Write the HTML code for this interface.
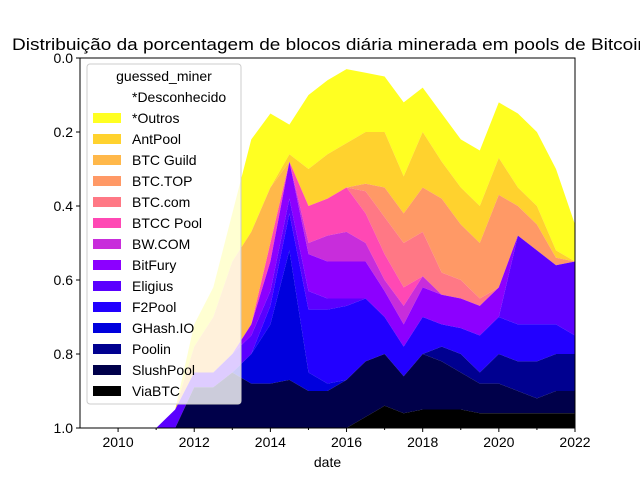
<!DOCTYPE html>
<html><head><meta charset="utf-8"><style>
body{margin:0;background:#fff;}
svg text{font-family:"Liberation Sans","DejaVu Sans",sans-serif;}
</style></head><body>
<svg id="chart" width="640" height="480" xmlns="http://www.w3.org/2000/svg">
<defs><clipPath id="plotclip"><rect x="80" y="58" width="495" height="370"/></clipPath></defs>
<rect width="640" height="480" fill="#fff"/>
<g id="areas" clip-path="url(#plotclip)"></g>
<rect x="80" y="58" width="495" height="370" fill="none" stroke="#000" stroke-width="1"/>
<g id="axes"></g>
<text x="12" y="50" font-size="17" textLength="636" lengthAdjust="spacingAndGlyphs">Distribuição da porcentagem de blocos diária minerada em pools de Bitcoin</text>
<text x="327.5" y="467" font-size="14" text-anchor="middle">date</text>
<g id="legend"></g>
</svg>
<script>
const years = [2009,2009.5,2010,2010.5,2011,2011.5,2012,2012.5,2013,2013.5,2014,2014.5,2015,2015.5,2016,2016.5,2017,2017.5,2018,2018.5,2019,2019.5,2020,2020.5,2021,2021.5,2022];
const miners = ["*Desconhecido","*Outros","AntPool","BTC Guild","BTC.TOP","BTC.com","BTCC Pool","BW.COM","BitFury","Eligius","F2Pool","GHash.IO","Poolin","SlushPool","ViaBTC"];
const desconhecido = [1,1,1,1,1,0.95,0.72,0.62,0.42,0.22,0.15,0.18,0.10,0.06,0.03,0.04,0.05,0.12,0.08,0.15,0.22,0.25,0.12,0.15,0.20,0.30,0.45];
const outros       = [0,0,0,0,0,0,0.06,0.08,0.13,0.25,0.20,0.08,0.20,0.20,0.20,0.16,0.15,0.20,0.12,0.13,0.13,0.15,0.15,0.20,0.20,0.22,0.10];
const antpool      = [0,0,0,0,0,0,0,0,0,0,0,0.02,0.10,0.12,0.12,0.14,0.15,0.10,0.15,0.10,0.10,0.10,0.10,0.05,0.05,0.02,0];
const btcguild     = [0,0,0,0,0,0,0.07,0.15,0.25,0.25,0.15,0,0,0,0,0,0,0,0,0,0,0,0,0,0,0,0];
const btctop       = [0,0,0,0,0,0,0,0,0,0,0,0,0,0,0,0.02,0.08,0.08,0.12,0.20,0.15,0.15,0.25,0.08,0.07,0.02,0];
const btccom       = [0,0,0,0,0,0,0,0,0,0,0,0,0,0,0,0.06,0.10,0.12,0.12,0.06,0.05,0.02,0,0,0,0,0];
const btcc         = [0,0,0,0,0,0,0,0,0,0,0.05,0,0.10,0.10,0.12,0.08,0.07,0.05,0,0,0,0,0,0,0,0,0];
const bwcom        = [0,0,0,0,0,0,0,0,0,0,0,0,0.03,0.07,0.08,0.05,0.03,0.05,0.03,0,0,0,0,0,0,0,0];
const bitfury      = [0,0,0,0,0,0,0,0,0,0.03,0.08,0.10,0.10,0.10,0.10,0.10,0.07,0.06,0.08,0.08,0.08,0.08,0.08,0,0,0,0];
const eligius      = [0,0,0,0,0,0.05,0.04,0.04,0.05,0.05,0.04,0.04,0.05,0.03,0.02,0,0,0,0,0,0,0,0,0.24,0.20,0.16,0.20];
const f2pool       = [0,0,0,0,0,0,0,0,0,0,0.05,0.10,0.17,0.20,0.20,0.17,0.10,0.08,0.10,0.06,0.07,0.10,0.10,0.10,0.10,0.08,0.05];
const ghash        = [0,0,0,0,0,0,0,0,0,0.08,0.16,0.35,0.05,0.02,0,0,0,0,0,0,0,0,0,0,0,0,0];
const poolin       = [0,0,0,0,0,0,0,0,0,0,0,0,0,0,0,0,0,0,0,0.04,0.05,0.03,0.08,0.08,0.10,0.10,0.10];
const slushpool    = [0,0,0,0,0,0,0.11,0.11,0.15,0.12,0.12,0.13,0.10,0.10,0.13,0.15,0.14,0.10,0.15,0.13,0.10,0.08,0.08,0.06,0.04,0.06,0.06];
const viabtc       = [0,0,0,0,0,0,0,0,0,0,0,0,0,0,0,0.03,0.06,0.04,0.05,0.05,0.05,0.04,0.04,0.04,0.04,0.04,0.04];
const series = [desconhecido,outros,antpool,btcguild,btctop,btccom,btcc,bwcom,bitfury,eligius,f2pool,ghash,poolin,slushpool,viabtc];
const colors = ["#ffffff","#ffff22","#ffd22e","#ffb84a","#ff9966","#ff7885","#ff48b4","#c82ddb","#8c00ff","#5a00ff","#2200ff","#0000dd","#000090","#00004a","#000000"];
const yTicks = [0,0.2,0.4,0.6,0.8,1.0];
const yTickLabels = ["0.0","0.2","0.4","0.6","0.8","1.0"];
const xTicks = [2010,2012,2014,2016,2018,2020,2022];
const xMinor = [2011,2013,2015,2017,2019,2021];

const NS="http://www.w3.org/2000/svg";
const X0=80,X1=575,Y0=58,Y1=428;
const xs = y => X0 + (y-2009)/(2022-2009)*(X1-X0);
const ys = v => Y0 + v*(Y1-Y0);
function mk(tag,attrs){const e=document.createElementNS(NS,tag);for(const k in attrs)e.setAttribute(k,attrs[k]);return e;}

const areas=document.getElementById('areas');
let cum = years.map(()=>0);
series.forEach((s,i)=>{
  const top = cum.slice();
  const bot = cum.map((c,j)=>c+s[j]);
  cum = bot;
  let pts=[];
  years.forEach((y,j)=>pts.push(xs(y).toFixed(1)+","+ys(top[j]).toFixed(1)));
  for(let j=years.length-1;j>=0;j--) pts.push(xs(years[j]).toFixed(1)+","+ys(bot[j]).toFixed(1));
  const p=mk('polygon',{points:pts.join(' '),fill:colors[i]});
  
  
  areas.appendChild(p);
});

const axes=document.getElementById('axes');
yTicks.forEach((v,i)=>{
  const yy=ys(v);
  const t=mk('line',{x1:X0-4,x2:X0,y1:yy,y2:yy,stroke:'#000'});
  
  
  axes.appendChild(t);
  const l=mk('text',{x:X0-7,y:yy+5,'font-size':14,'text-anchor':'end'});
  l.textContent=yTickLabels[i];
  
  
  axes.appendChild(l);
});
xTicks.forEach(v=>{
  const xx=xs(v);
  const t=mk('line',{x1:xx,x2:xx,y1:Y1,y2:Y1+4,stroke:'#000'});
  
  
  axes.appendChild(t);
  const l=mk('text',{x:xx,y:Y1+19,'font-size':14,'text-anchor':'middle'});
  l.textContent=v;
  
  
  axes.appendChild(l);
});
xMinor.forEach(v=>{
  const xx=xs(v);
  const t=mk('line',{x1:xx,x2:xx,y1:Y1,y2:Y1+2,stroke:'#000'});
  
  
  axes.appendChild(t);
});

const lg=document.getElementById('legend');
const box=mk('rect',{x:87,y:64,width:154,height:340,rx:3,fill:'rgba(255,255,255,0.8)',stroke:'#cccccc'});


lg.appendChild(box);
const lt=mk('text',{x:164,y:81,'font-size':14,'text-anchor':'middle'});
lt.textContent='guessed_miner';


lg.appendChild(lt);
miners.forEach((m,i)=>{
  const yy=97+i*21;
  const g=mk('g',{});
  
  
  const r=mk('rect',{x:93,y:yy-5,width:28,height:10,fill:colors[i]});
  
  
  const t=mk('text',{x:132,y:yy+5,'font-size':14});
  t.textContent=m;
  
  
  g.appendChild(r);g.appendChild(t);lg.appendChild(g);
});
</script>
</body></html>
